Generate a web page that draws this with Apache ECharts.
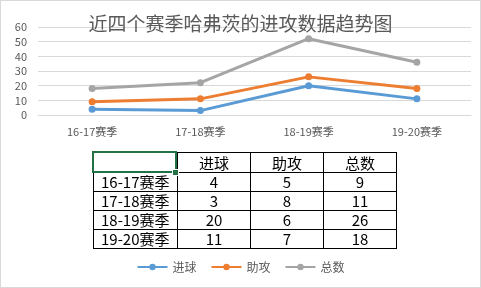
<!DOCTYPE html>
<html><head><meta charset="utf-8">
<script src="https://cdn.jsdelivr.net/npm/echarts@6/dist/echarts.min.js"></script>
<style>
html,body{margin:0;padding:0;background:#fff;}
#wrap{position:relative;width:481px;height:288px;}
#chart{position:absolute;left:0;top:0;width:481px;height:288px;}
#frame{position:absolute;left:0;top:0;width:479px;height:286px;border:1px solid #d9d9d9;pointer-events:none;}
#tbl{position:absolute;left:93px;top:152px;border-collapse:collapse;font-family:"Noto Sans CJK SC","Noto Sans",sans-serif;font-size:15px;color:#000;}
#tbl td{border:1px solid #000;height:18px;line-height:18px;padding:0;text-align:center;}
#tbl td.first{text-align:left;padding-left:7px;}
#tbl tr:first-child td{height:19px;}
#sel{position:absolute;left:92px;top:151px;width:81px;height:18px;border:2px solid #217346;pointer-events:none;}
#handle{position:absolute;left:172px;top:169px;width:5px;height:5px;background:#217346;border:1px solid #fff;}
</style></head>
<body><div id="wrap"><div id="chart"></div><table id="tbl"></table><div id="sel"></div><div id="handle"></div><div id="frame"></div></div>
<script>
var title = '近四个赛季哈弗茨的进攻数据趋势图';
var categories = ['16-17赛季','17-18赛季','18-19赛季','19-20赛季'];
var seriesNames = ['进球','助攻','总数'];
var goals = [4,3,20,11];
var assists = [5,8,6,7];
var totals = [9,11,26,18];
var colors = ['#5B9BD5','#ED7D31','#A5A5A5'];
var colWidths = [83,72,72,72];

// build table
var tbl = document.getElementById('tbl');
var html = '<tr><td style="width:'+colWidths[0]+'px"></td>';
for (var i=0;i<seriesNames.length;i++) html += '<td style="width:'+colWidths[i+1]+'px">'+seriesNames[i]+'</td>';
html += '</tr>';
var vals = [goals, assists, totals];
for (var r=0;r<categories.length;r++){
  html += '<tr><td class="first">'+categories[r]+'</td>';
  for (var c=0;c<vals.length;c++) html += '<td>'+vals[c][r]+'</td>';
  html += '</tr>';
}
tbl.innerHTML = html;

var chart = echarts.init(document.getElementById('chart'));
var font = '"Noto Sans CJK SC","Noto Sans",sans-serif';
var dataArr = [goals, assists, totals];
chart.setOption({
  animation:false,
  textStyle:{fontFamily:font},
  title:{text:title,left:'center',top:9,textStyle:{fontSize:19,fontWeight:'normal',color:'#595959',fontFamily:font}},
  legend:{bottom:10,left:'center',itemWidth:30,itemHeight:8,itemGap:14,textStyle:{fontSize:12,color:'#595959'},data:seriesNames},
  grid:{left:38,right:10,top:27,height:88},
  xAxis:{type:'category',data:categories,boundaryGap:true,
    axisLine:{lineStyle:{color:'#d9d9d9'}},axisTick:{show:false},
    axisLabel:{color:'#595959',fontSize:11,margin:11}},
  yAxis:{type:'value',min:0,max:60,interval:10,
    axisLine:{show:false},axisTick:{show:false},
    splitLine:{lineStyle:{color:'#d9d9d9'}},
    axisLabel:{color:'#595959',fontSize:11,margin:11}},
  series: seriesNames.map(function(n,i){
    return {name:n,type:'line',stack:'total',data:dataArr[i],
      symbol:'circle',symbolSize:7,
      lineStyle:{width:3,color:colors[i]},itemStyle:{color:colors[i]}};
  })
});
</script></body></html>
